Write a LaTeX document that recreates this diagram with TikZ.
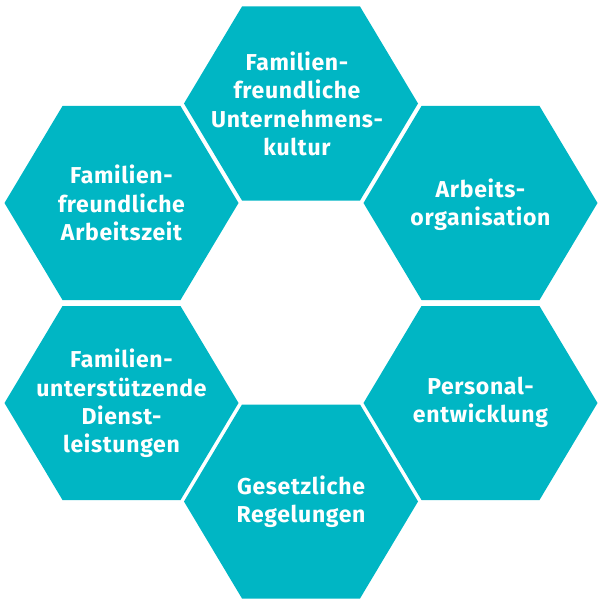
\documentclass[tikz,border=0pt]{standalone}
\usepackage{fontspec}
\setmainfont{Fira Sans}[LetterSpace=3]
\definecolor{hexteal}{HTML}{00B6C4}
\begin{document}
\begin{tikzpicture}[x=1pt,y=-1pt,
  hexfill/.style={fill=hexteal},
  hexlabel/.style={text=white,align=center,inner sep=0pt,
    font=\fontsize{23}{28.3}\selectfont\bfseries},
  hexagon/.pic={\fill[hexfill] (-117,0) -- (-59,-97) -- (59,-97) -- (117,0) -- (59,97) -- (-59,97) -- cycle;}]
\useasboundingbox (0,0) rectangle (597,599);
\pic at (301,103.5) {hexagon};
\pic at (121.5,203) {hexagon};
\pic at (480.5,203) {hexagon};
\pic at (121.5,403) {hexagon};
\pic at (480.5,403) {hexagon};
\pic at (301,501.5) {hexagon};
\node[hexlabel] (kultur) at (297,104) {Familien-\\freundliche\\Unternehmens-\\kultur};
\node[hexlabel] (arbeitszeit) at (121.5,203) {Familien-\\freundliche\\Arbeitszeit};
\node[hexlabel] (organisation) at (480.5,204.5) {Arbeits-\\organisation};
\node[hexlabel] (dienst) at (121.5,403.5) {Familien-\\unterstützende\\Dienst-\\leistungen};
\node[hexlabel] (personal) at (480.5,402.5) {Personal-\\entwicklung};
\node[hexlabel] (gesetz) at (301,502) {Gesetzliche\\Regelungen};
\end{tikzpicture}
\end{document}
